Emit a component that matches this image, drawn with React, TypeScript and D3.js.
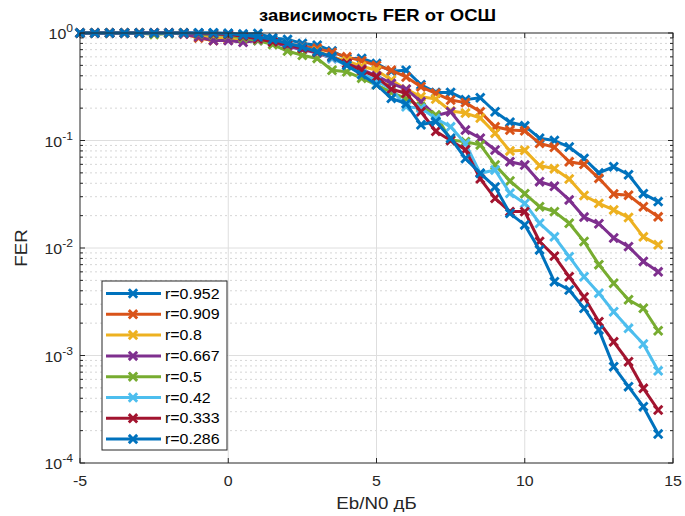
import React from "react";
import * as d3 from "d3";

const snr: number[] = d3.range(-5, 14.51, 0.5).map((v) => +v.toFixed(1));

const seriesNames: string[] = ["r=0.952", "r=0.909", "r=0.8", "r=0.667", "r=0.5", "r=0.42", "r=0.333", "r=0.286"];
const seriesColors: string[] = ["#0072BD", "#D95319", "#EDB120", "#7E2F8E", "#77AC30", "#4DBEEE", "#A2142F", "#0072BD"];

const r952: number[] = [1, 1, 1, 1, 1, 1, 1, 1, 1, 1,
  0.99, 0.98, 0.99, 0.9, 0.87, 0.8, 0.77, 0.68, 0.58, 0.58,
  0.52, 0.44, 0.45, 0.33, 0.28, 0.28, 0.24, 0.25, 0.185, 0.148,
  0.137, 0.105, 0.1, 0.087, 0.068, 0.05, 0.057, 0.048, 0.032, 0.027];
const r909: number[] = [1, 1, 1, 1, 1, 1, 1, 0.98, 0.9, 0.85,
  0.86, 0.88, 0.9, 0.85, 0.8, 0.75, 0.72, 0.66, 0.6, 0.55,
  0.5, 0.45, 0.39, 0.316, 0.275, 0.238, 0.225, 0.185, 0.134, 0.125,
  0.123, 0.094, 0.0865, 0.0635, 0.06, 0.0445, 0.0318, 0.031, 0.0242, 0.0195];
const r800: number[] = [1, 1, 1, 1, 1, 1, 1, 1, 0.95, 0.9,
  0.88, 0.9, 0.88, 0.84, 0.78, 0.72, 0.68, 0.6, 0.55, 0.49,
  0.45, 0.365, 0.3, 0.255, 0.243, 0.188, 0.18, 0.162, 0.117, 0.08,
  0.081, 0.0585, 0.0547, 0.0438, 0.0308, 0.026, 0.0226, 0.0192, 0.0127, 0.0107];
const r667: number[] = [1, 1, 1, 1, 1, 1, 1, 0.98, 0.92, 0.85,
  0.85, 0.82, 0.85, 0.82, 0.75, 0.7, 0.65, 0.58, 0.52, 0.46,
  0.4, 0.34, 0.3, 0.23, 0.17, 0.185, 0.125, 0.105, 0.0816, 0.0635,
  0.0592, 0.0414, 0.0375, 0.028, 0.0194, 0.0168, 0.0124, 0.0103, 0.0075, 0.006];
const r500: number[] = [1, 1, 1, 1, 1, 0.97, 0.99, 1, 0.98, 0.96,
  0.95, 0.9, 0.85, 0.78, 0.68, 0.62, 0.58, 0.45, 0.436, 0.38,
  0.33, 0.28, 0.245, 0.206, 0.173, 0.101, 0.0975, 0.091, 0.0592, 0.042,
  0.032, 0.0242, 0.0218, 0.017, 0.0115, 0.007, 0.0047, 0.0033, 0.00275, 0.0017];
const r420: number[] = [1, 1, 1, 1, 1, 1, 1, 1, 0.99, 0.98,
  0.97, 0.93, 0.88, 0.85, 0.8, 0.74, 0.66, 0.58, 0.5, 0.42,
  0.36, 0.3, 0.206, 0.2, 0.16, 0.134, 0.094, 0.0495, 0.0532, 0.0323,
  0.026, 0.017, 0.0127, 0.0083, 0.0054, 0.0038, 0.00255, 0.00179, 0.00128, 0.00072];
const r333: number[] = [1, 1, 1, 1, 1, 1, 1, 1, 0.99, 0.98,
  0.97, 0.93, 0.88, 0.83, 0.78, 0.72, 0.66, 0.6, 0.52, 0.45,
  0.39, 0.3, 0.275, 0.185, 0.122, 0.1, 0.082, 0.044, 0.029, 0.0218,
  0.0218, 0.0115, 0.0084, 0.0054, 0.0035, 0.00206, 0.00134, 0.000875, 0.000495, 0.000311];
const r286: number[] = [1, 1, 1, 1, 1, 1, 1, 1, 1, 1,
  0.99, 0.96, 0.92, 0.87, 0.8, 0.74, 0.67, 0.6, 0.5, 0.41,
  0.33, 0.247, 0.22, 0.14, 0.15, 0.105, 0.068, 0.0495, 0.037, 0.021,
  0.0164, 0.0096, 0.00486, 0.00407, 0.00275, 0.00173, 0.000787, 0.000513, 0.000334, 0.000186];

const seriesValues: number[][] = [r952, r909, r800, r667, r500, r420, r333, r286];

const xTicks: number[] = [-5, 0, 5, 10, 15];
const yExponents: number[] = [0, -1, -2, -3, -4];

const W = 685, H = 516;
const M = { left: 80, right: 12, top: 33, bottom: 53 };
const SX = 1.1;

export default function App() {
  const x = d3.scaleLinear().domain([-5, 15]).range([M.left, W - M.right]);
  const y = d3.scaleLog().domain([1e-4, 1]).range([H - M.bottom, M.top]);
  const line = d3.line<number>().x((_, i) => x(snr[i])).y((d) => y(d));
  const font = "Arial, 'Liberation Sans', sans-serif";

  const minor: number[] = [];
  for (let e = -4; e < 0; e++) for (let k = 2; k <= 9; k++) minor.push(k * Math.pow(10, e));

  const x0 = M.left, x1 = W - M.right, y0 = M.top, y1 = H - M.bottom;
  const mk = 4.2;
  const cross = (cx: number, cy: number, color: string, key: string) => (
    <path key={key} d={`M${cx - mk},${cy - mk}L${cx + mk},${cy + mk}M${cx - mk},${cy + mk}L${cx + mk},${cy - mk}`} stroke={color} strokeWidth={2.9} fill="none" />
  );

  const lgX = 102, lgY = 281, lgW = 125, lgH = 169, lgStep = 20.8;

  return (
    <svg width={W} height={H} style={{ position: "absolute", left: 0, top: 0, background: "#fff" }} fontFamily={font}>
      <rect x={0} y={0} width={W} height={H} fill="#fff" />
      {minor.map((v, i) => (
        <line key={"mg" + i} x1={x0} x2={x1} y1={y(v)} y2={y(v)} stroke="#d6d6d6" strokeWidth={1} strokeDasharray="2,3" />
      ))}
      {xTicks.slice(1, -1).map((t) => (
        <line key={"gx" + t} x1={x(t)} x2={x(t)} y1={y0} y2={y1} stroke="#dedede" strokeWidth={1} />
      ))}
      {yExponents.slice(1, -1).map((e) => (
        <line key={"gy" + e} x1={x0} x2={x1} y1={y(Math.pow(10, e))} y2={y(Math.pow(10, e))} stroke="#dedede" strokeWidth={1} />
      ))}
      {seriesValues.map((vals, si) => (
        <g key={"s" + si}>
          <path d={line(vals) || ""} fill="none" stroke={seriesColors[si]} strokeWidth={3} strokeLinejoin="round" />
          {vals.map((v, i) => cross(x(snr[i]), y(v), seriesColors[si], "m" + si + "_" + i))}
        </g>
      ))}
      <rect x={x0} y={y0} width={x1 - x0} height={y1 - y0} fill="none" stroke="#262626" strokeWidth={1} />
      {xTicks.map((t) => (
        <g key={"xt" + t}>
          <line x1={x(t)} x2={x(t)} y1={y1} y2={y1 - 5} stroke="#262626" />
          <line x1={x(t)} x2={x(t)} y1={y0} y2={y0 + 5} stroke="#262626" />
          <text transform={`translate(${x(t)},${y1 + 23}) scale(${SX},1)`} textAnchor="middle" fontSize={14.5} fill="#262626">{t}</text>
        </g>
      ))}
      {minor.map((v, i) => (
        <g key={"ymt" + i}>
          <line x1={x0} x2={x0 + 3} y1={y(v)} y2={y(v)} stroke="#262626" />
          <line x1={x1} x2={x1 - 3} y1={y(v)} y2={y(v)} stroke="#262626" />
        </g>
      ))}
      {yExponents.map((e) => (
        <g key={"yt" + e}>
          <line x1={x0} x2={x0 + 5} y1={y(Math.pow(10, e))} y2={y(Math.pow(10, e))} stroke="#262626" />
          <line x1={x1} x2={x1 - 5} y1={y(Math.pow(10, e))} y2={y(Math.pow(10, e))} stroke="#262626" />
          <text transform={`translate(${x0 - 7},${y(Math.pow(10, e)) + 6}) scale(${SX},1)`} textAnchor="end" fontSize={14.5} fill="#262626">
            10<tspan dy={-7} fontSize={11}>{e}</tspan>
          </text>
        </g>
      ))}
      <text transform={`translate(${(x0 + x1) / 2 + 1},21) scale(1.12,1)`} textAnchor="middle" fontSize={16.5} fontWeight="bold" fill="#000">зависимость FER от ОСШ</text>
      <text transform={`translate(${(x0 + x1) / 2},${H - 7}) scale(${SX},1)`} textAnchor="middle" fontSize={17} fill="#262626">Eb/N0 дБ</text>
      <text transform={`translate(27,${(y0 + y1) / 2}) rotate(-90) scale(${SX},1)`} textAnchor="middle" fontSize={17} fill="#262626">FER</text>
      <rect x={lgX} y={lgY} width={lgW} height={lgH} fill="#fff" stroke="#262626" strokeWidth={1} />
      {seriesNames.map((n, i) => {
        const ly = lgY + 12.5 + i * lgStep;
        return (
          <g key={"lg" + i}>
            <line x1={lgX + 4} x2={lgX + 59} y1={ly} y2={ly} stroke={seriesColors[i]} strokeWidth={3} />
            {cross(lgX + 31, ly, seriesColors[i], "lm" + i)}
            <text transform={`translate(${lgX + 63},${ly + 5}) scale(${SX},1)`} fontSize={14.5} fill="#000">{n}</text>
          </g>
        );
      })}
    </svg>
  );
}
